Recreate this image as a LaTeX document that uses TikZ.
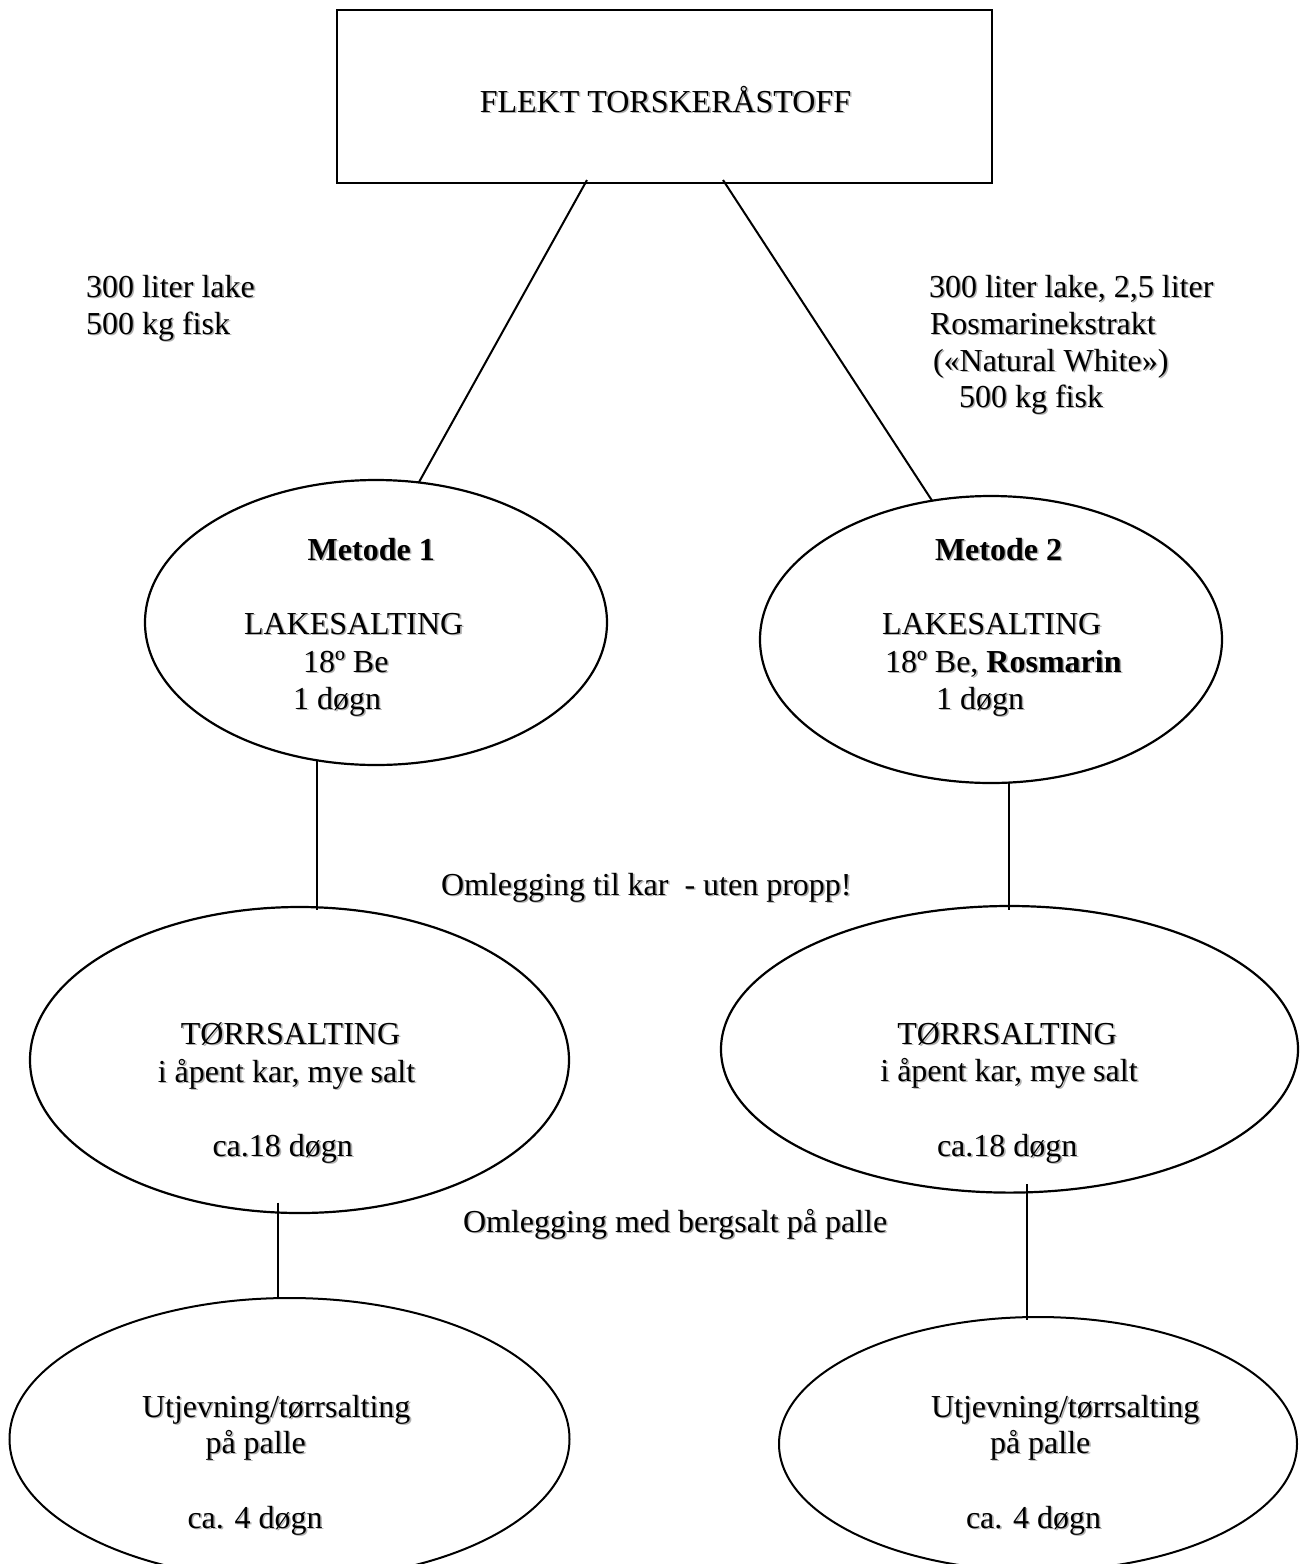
\documentclass[tikz,border=0pt]{standalone}
\usepackage{fontspec}
\setmainfont{Liberation Serif}
\usetikzlibrary{shapes.geometric,calc}
\newcommand\shd[1]{\leavevmode\rlap{\hspace{1.6pt}\raisebox{-1.6pt}{\color{black!30}#1}}#1}
\begin{document}
\begin{tikzpicture}[x=1pt,y=-1pt,
  ell/.style={ellipse, draw, line width=2.2pt, inner sep=0pt, outer sep=0pt},
  txt/.style={inner sep=0pt, outer sep=0pt, font=\fontsize{32}{37}\selectfont},
  lt/.style={txt, anchor=base west},
  ct/.style={txt, anchor=base},
  conn/.style={line width=2pt}]
\fill[white] (0,0) rectangle (1299,1564);
\useasboundingbox (0,0) rectangle (1299,1564);
\clip (0,0) rectangle (1299,1564);

% top box
\node[draw, line width=2.8pt, minimum width=655pt, minimum height=173pt, inner sep=0pt, outer sep=0pt] (box) at (664.5,96.5) {};
\node[ct] (boxt) at (665.5,112) {\shd{FLEKT TORSKERÅSTOFF}};

% side notes
\node[lt] (n1a) at (86,297) {\shd{300 liter lake}};
\node[lt] (n1b) at (86,334) {\shd{500 kg fisk}};
\node[lt] (n2a) at (929,297) {\shd{300 liter lake, 2,5 liter}};
\node[lt] (n2b) at (930,334) {\shd{Rosmarinekstrakt}};
\node[lt] (n2c) at (933,371) {\shd{(«Natural White»)}};
\node[lt] (n2d) at (959,407) {\shd{500 kg fisk}};

% ellipses
\node[ell, minimum width=462pt, minimum height=285pt] (m1) at (376,622.5) {};
\node[ell, minimum width=462pt, minimum height=287pt] (m2) at (991,639.5) {};
\node[ell, minimum width=539pt, minimum height=306pt] (t1) at (299.5,1060) {};
\node[ell, minimum width=577pt, minimum height=286.6pt] (t2) at (1009.5,1049.3) {};
\node[ell, line width=2pt, minimum width=560pt, minimum height=282pt] (b1) at (289.5,1439) {};
\node[ell, line width=2pt, minimum width=518pt, minimum height=254pt] (b2) at (1038,1444) {};

% Metode 1
\node[lt] (m1a) at (307.7,560) {\shd{\textbf{Metode 1}}};
\node[lt] (m1b) at (244,634) {\shd{LAKESALTING}};
\node[lt] (m1c) at (303,672) {\shd{18º Be}};
\node[lt] (m1d) at (293,709) {\shd{1 døgn}};
% Metode 2
\node[lt] (m2a) at (935,560) {\shd{\textbf{Metode 2}}};
\node[lt] (m2b) at (882,634) {\shd{LAKESALTING}};
\node[lt] (m2c) at (885,672) {\shd{18º Be, \textbf{Rosmarin}}};
\node[lt] (m2d) at (936,709) {\shd{1 døgn}};

\node[lt] (om1) at (441,895) {\shd{Omlegging til kar~ - uten propp!}};

% TØRRSALTING
\node[ct] (t1a) at (290.5,1044) {\shd{TØRRSALTING}};
\node[ct] (t1b) at (286.5,1082) {\shd{i åpent kar, mye salt}};
\node[lt] (t1c) at (212.5,1156) {\shd{ca.18 døgn}};
\node[ct] (t2a) at (1007,1044) {\shd{TØRRSALTING}};
\node[ct] (t2b) at (1009,1081) {\shd{i åpent kar, mye salt}};
\node[lt] (t2c) at (937,1156) {\shd{ca.18 døgn}};

\node[lt] (om2) at (463,1232) {\shd{Omlegging med bergsalt på palle}};

% Utjevning
\node[lt] (b1a) at (142,1417) {\shd{Utjevning/tørrsalting}};
\node[lt] (b1b) at (205.5,1453) {\shd{på palle}};
\node[lt] (b1c) at (187.5,1528) {\shd{ca. 4 døgn}};
\node[lt] (b2a) at (931,1417) {\shd{Utjevning/tørrsalting}};
\node[lt] (b2b) at (990,1453) {\shd{på palle}};
\node[lt] (b2c) at (966,1528) {\shd{ca. 4 døgn}};

% connectors
\draw[conn] ($(box.south)+(-77.5,-3)$) -- (m1.73.9);
\draw[conn] ($(box.south)+(58.5,-3)$) -- (m2.113);
\draw[conn] (m1.247.2) -- ($(m1.247.2 |- t1.north)+(0,3)$);
\draw[conn] (m2.277.6) -- ($(m2.277.6 |- t2.north)+(0,4)$);
\draw[conn] ($(t1.262.7)+(0,-10)$) -- (t1.262.7 |- b1.north);
\draw[conn] ($(t2.277.6)+(0,-8)$) -- ($(t2.277.6 |- b2.north)+(0,3)$);
\end{tikzpicture}
\end{document}
